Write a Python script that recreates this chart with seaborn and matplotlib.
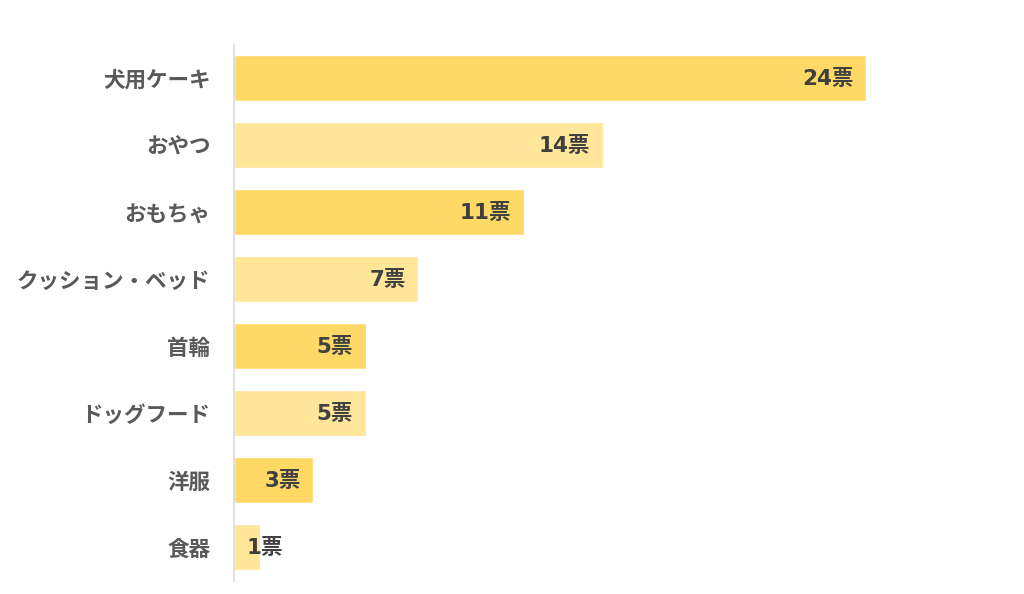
import matplotlib
matplotlib.use('Agg')
import matplotlib.pyplot as plt
import seaborn as sns
import pandas as pd

categories = ['犬用ケーキ', 'おやつ', 'おもちゃ', 'クッション・ベッド', '首輪', 'ドッグフード', '洋服', '食器']
votes = [24, 14, 11, 7, 5, 5, 3, 1]
bar_colors = ['#FFD966', '#FFE699'] * 4

df = pd.DataFrame({'item': categories, 'votes': votes})

sns.set_style("white")
plt.rcParams['font.family'] = ['Noto Sans CJK JP', 'DejaVu Sans']

fig = plt.figure(figsize=(10.24, 5.94), dpi=100)
ax = fig.add_axes([234 / 1024, 0.0227, 0.7201, 0.9023])

sns.barplot(data=df, x='votes', y='item', hue='item', palette=bar_colors,
            legend=False, width=0.7, saturation=1, ax=ax)

ax.set_xlim(0, 28)
ax.set_ylim(7.5, -0.5)
ax.set_xlabel('')
ax.set_ylabel('')
ax.set_xticks([])
for s in ['top', 'right', 'bottom']:
    ax.spines[s].set_visible(False)
ax.spines['left'].set_color('#d9d9d9')
ax.spines['left'].set_linewidth(1.2)
ax.tick_params(axis='y', length=0, pad=17, labelsize=15.5, labelcolor='#595959')
for lbl in ax.get_yticklabels():
    lbl.set_fontfamily(['Noto Sans CJK JP'])
    lbl.set_fontweight('bold')

num_font = ['DejaVu Sans', 'Noto Sans CJK JP']
for i, v in enumerate(votes):
    if v < 2:
        ax.annotate(f'{v}票', (0, i), xytext=(9, -1), textcoords='offset points',
                    ha='left', va='center', fontsize=15.5, fontweight='bold',
                    color='#404040', family=num_font)
    else:
        ax.annotate(f'{v}票', (v, i), xytext=(-9, -1), textcoords='offset points',
                    ha='right', va='center', fontsize=15.5, fontweight='bold',
                    color='#404040', family=num_font)

fig.savefig('out.png', dpi=100)
